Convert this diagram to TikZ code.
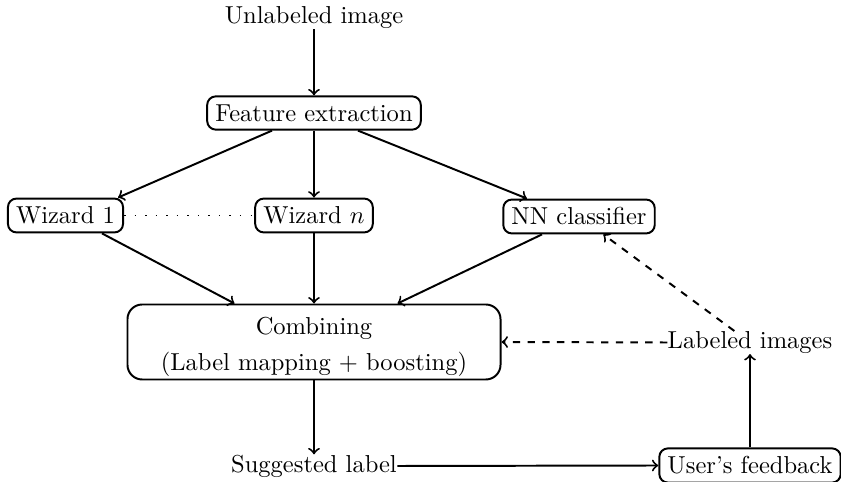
\documentclass[tikz,border=0pt]{standalone}
\usetikzlibrary{calc}
\begin{document}
\begin{tikzpicture}[x=0.408pt,y=-0.408pt,
  box/.style={draw,thick,rounded corners=3.5pt},
  bigbox/.style={draw,thick,rounded corners=6pt,inner ysep=0pt,minimum width=152.2pt,minimum height=30.6pt,align=center},
  plain/.style={inner sep=0pt},
  arr/.style={->,thick},
  darr/.style={->,thick,dashed},
  dotline/.style={line width=0.6pt,dash pattern=on 0.6pt off 3.7pt}]
\useasboundingbox (0,0) rectangle (841,482);
\node[plain] (unl) at (314,17.5) {Unlabeled image};
\node[box] (fe) at (314,113) {Feature extraction};
\node[box] (w1) at (65.5,215.5) {Wizard 1};
\node[box] (wn) at (314,215.5) {Wizard $n$};
\node[box] (nn) at (579,216.5) {NN classifier};
\node[bigbox] (comb) at (314,342) {\rule{0pt}{11pt}Combining\\[3pt](Label mapping + boosting)};
\node[plain] (lab) at (750,342.5) {Labeled images};
\node[plain] (sug) at (314,466) {Suggested label};
\node[box] (uf) at (750,465.5) {User's feedback};

\draw[arr] (unl) -- (unl |- fe.north);
\draw[arr] ($(fe.south)+(-42,0)$) -- ($(w1.north)+(52.5,0)$);
\draw[arr] (fe.south) -- (fe.south |- wn.north);
\draw[arr] ($(fe.south)+(44,0)$) -- ($(nn.north)+(-52,0)$);
\draw[arr] ($(w1.south)+(36.5,0)$) -- ($(comb.north)+(-79.5,0)$);
\draw[arr] (wn.south) -- (wn.south |- comb.north);
\draw[arr] ($(nn.south)+(-37,0)$) -- ($(comb.north)+(83.5,0)$);
\draw[arr] (comb.south) -- (comb.south |- sug.north);
\draw[arr] (sug.east) -- (uf.west);
\draw[arr] (uf.north) -- (uf.north |- lab.south);
\draw[darr] (lab.west) -- (comb.east);
\draw[darr] (lab) -- (nn);
\draw[dotline] (w1.east) -- (wn.west);
\end{tikzpicture}
\end{document}
